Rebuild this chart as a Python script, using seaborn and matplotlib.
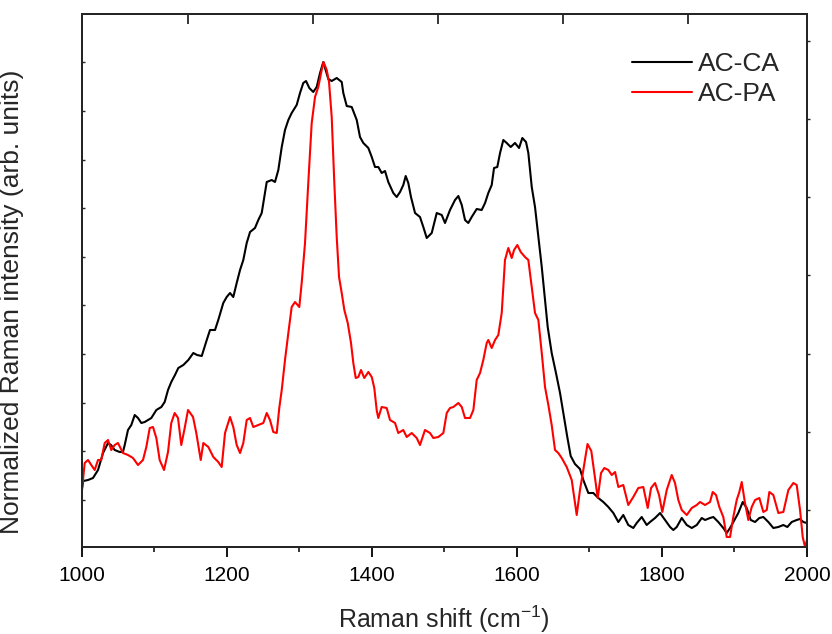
import numpy as np
import pandas as pd
import matplotlib
matplotlib.use("Agg")
import matplotlib.pyplot as plt
import seaborn as sns

# ---------------- data ----------------
ca_shift = [1000, 1002.2, 1008.7, 1015.6, 1022.5, 1029.4, 1036.3, 1040.4, 1045.5, 1052.4,
            1056.9, 1059.3, 1063.8, 1068.4, 1073.1, 1077.6, 1082.2, 1086.9, 1091.4, 1096.0,
            1102.9, 1109.8, 1114.4, 1119.0, 1123.5, 1128.6, 1133.2, 1140.1, 1147.0, 1153.9,
            1159.0, 1165.5, 1172.4, 1176.9, 1183.8, 1188.3, 1195.2, 1199.9, 1204.5, 1209.0,
            1213.7, 1218.3, 1222.8, 1227.5, 1232.1, 1238.9, 1243.5, 1248.2, 1250.4, 1255.1,
            1262.0, 1266.5, 1271.1, 1275.8, 1280.3, 1284.9, 1289.5, 1296.4, 1301.0, 1305.5,
            1309.3, 1313.8, 1319.3, 1324.0, 1328.6, 1333.1, 1340.0, 1344.7, 1351.6, 1358.5,
            1360.7, 1365.4, 1372.3, 1379.2, 1383.7, 1388.3, 1395.2, 1399.9, 1404.4, 1409.0,
            1413.6, 1418.2, 1422.7, 1429.6, 1434.3, 1438.9, 1443.4, 1446.7, 1450.3, 1454.0,
            1459.6, 1466.4, 1471.0, 1475.7, 1482.6, 1489.5, 1496.4, 1500.9, 1507.8, 1514.7,
            1519.3, 1524.0, 1528.5, 1533.0, 1537.7, 1544.6, 1551.5, 1556.1, 1560.6, 1565.3,
            1568.5, 1573.0, 1576.8, 1581.3, 1586.0, 1591.5, 1597.4, 1603.0, 1607.5, 1612.6,
            1615.8, 1620.5, 1625.0, 1629.6, 1634.3, 1638.8, 1642.5, 1648.0, 1653.9, 1659.5,
            1664.0, 1669.5, 1674.2, 1680.1, 1687.0, 1691.6, 1698.5, 1705.4, 1712.3, 1719.2,
            1726.1, 1733.0, 1739.9, 1746.7, 1753.6, 1760.5, 1765.2, 1772.1, 1779.0, 1783.6,
            1790.5, 1797.4, 1804.3, 1811.2, 1815.7, 1820.4, 1827.3, 1834.2, 1841.1, 1848.0,
            1854.9, 1859.4, 1866.3, 1870.9, 1877.7, 1884.6, 1889.3, 1893.9, 1898.4, 1905.3,
            1911.4, 1916.9, 1922.4, 1928.4, 1934.3, 1939.8, 1946.7, 1953.6, 1960.5, 1967.4,
            1972.9, 1978.9, 1985.8, 1990.4, 1994.9, 1999.6]
ca_intensity = [57, 66, 67, 69, 77, 94, 104, 102, 97, 95,
                95, 102, 117, 122, 132, 129, 124, 125, 127, 129,
                137, 140, 145, 157, 165, 172, 179, 182, 187, 194,
                192, 191, 207, 217, 217, 227, 244, 250, 254, 250,
                264, 277, 287, 304, 315, 319, 327, 334, 344, 365,
                367, 365, 377, 400, 417, 427, 434, 442, 454, 464,
                466, 459, 455, 460, 474, 485, 468, 466, 469, 465,
                454, 441, 440, 427, 410, 404, 399, 390, 380, 380,
                374, 376, 365, 354, 350, 355, 362, 371, 364, 350,
                334, 330, 320, 309, 314, 334, 332, 324, 337, 347,
                351, 342, 327, 324, 330, 338, 337, 344, 354, 362,
                379, 380, 394, 407, 404, 400, 404, 399, 409, 405,
                394, 360, 340, 310, 280, 247, 220, 194, 174, 154,
                134, 110, 91, 83, 78, 67, 54, 54, 49, 45,
                40, 34, 25, 32, 22, 19, 24, 30, 22, 25,
                29, 34, 27, 20, 17, 20, 29, 22, 19, 22,
                29, 27, 29, 30, 25, 19, 14, 19, 25, 34,
                45, 39, 27, 25, 29, 30, 25, 19, 20, 22,
                20, 25, 27, 28, 25, 24]

pa_shift = [1000, 1004.1, 1008.7, 1013.2, 1017.9, 1022.5, 1027.0, 1031.7, 1036.3, 1040.8,
            1045.5, 1050.0, 1056.9, 1063.8, 1070.7, 1077.6, 1084.5, 1089.1, 1093.8, 1098.3,
            1102.9, 1107.5, 1113.5, 1119.0, 1123.5, 1128.2, 1132.8, 1137.3, 1142.0, 1146.6,
            1153.5, 1158.0, 1164.1, 1167.7, 1174.6, 1181.5, 1188.3, 1193.0, 1197.6, 1204.5,
            1209.0, 1213.7, 1218.3, 1222.8, 1227.5, 1232.1, 1236.6, 1243.5, 1250.4, 1255.1,
            1259.6, 1264.2, 1268.9, 1272.4, 1275.8, 1280.3, 1284.9, 1289.5, 1294.1, 1300.0,
            1303.3, 1307.9, 1312.4, 1317.1, 1321.7, 1326.2, 1330.9, 1333.4, 1337.8, 1341.0,
            1344.7, 1348.3, 1351.6, 1354.8, 1358.5, 1362.1, 1366.8, 1371.3, 1374.5, 1377.8,
            1381.4, 1385.1, 1389.6, 1395.2, 1399.9, 1403.4, 1406.7, 1408.9, 1413.6, 1420.5,
            1425.1, 1432.0, 1436.5, 1443.4, 1448.1, 1455.0, 1461.9, 1466.4, 1473.3, 1480.2,
            1484.8, 1491.7, 1498.6, 1503.3, 1507.8, 1512.4, 1519.3, 1524.0, 1528.5, 1535.4,
            1540.0, 1544.6, 1549.2, 1553.7, 1558.4, 1560.6, 1565.3, 1569.9, 1574.4, 1579.1,
            1583.6, 1588.2, 1592.9, 1596.1, 1600.6, 1605.3, 1611.2, 1615.8, 1620.5, 1625.0,
            1629.6, 1634.3, 1638.8, 1643.4, 1648.0, 1652.6, 1657.1, 1661.8, 1668.7, 1675.6,
            1682.5, 1687.0, 1691.6, 1697.4, 1702.6, 1706.8, 1711.5, 1716.0, 1720.6, 1726.1,
            1730.8, 1735.4, 1739.9, 1746.7, 1753.6, 1760.5, 1767.4, 1774.3, 1780.4, 1785.0,
            1790.5, 1796.0, 1800.5, 1806.6, 1813.5, 1818.0, 1822.6, 1827.3, 1834.2, 1841.1,
            1848.0, 1852.5, 1859.4, 1866.3, 1870.0, 1874.6, 1879.1, 1884.6, 1889.3, 1893.9,
            1898.4, 1903.1, 1906.7, 1910.0, 1914.5, 1919.1, 1923.8, 1928.4, 1934.3, 1939.8,
            1944.5, 1948.1, 1953.6, 1960.5, 1967.4, 1974.3, 1981.2, 1985.8, 1990.4, 1994.1,
            1997.3, 2000]
pa_intensity = [54, 84, 87, 82, 77, 87, 87, 104, 107, 97,
                102, 104, 94, 92, 89, 82, 87, 100, 119, 120,
                109, 87, 77, 95, 124, 134, 129, 102, 119, 137,
                130, 114, 87, 104, 100, 90, 85, 80, 114, 130,
                120, 102, 94, 104, 127, 129, 120, 122, 124, 134,
                127, 115, 114, 139, 157, 187, 214, 240, 245, 240,
                264, 304, 364, 424, 450, 460, 477, 485, 477, 465,
                430, 364, 310, 270, 254, 237, 224, 204, 184, 169,
                170, 177, 169, 175, 170, 159, 137, 129, 140, 139,
                127, 124, 114, 117, 110, 114, 109, 102, 117, 114,
                109, 110, 114, 134, 139, 140, 144, 140, 129, 129,
                137, 167, 174, 187, 204, 207, 199, 207, 212, 234,
                287, 299, 289, 297, 302, 295, 290, 287, 260, 234,
                227, 194, 160, 142, 122, 97, 94, 89, 80, 67,
                32, 57, 77, 103, 96, 74, 49, 74, 79, 77,
                72, 75, 60, 62, 42, 50, 59, 60, 39, 59,
                64, 52, 35, 57, 72, 64, 47, 37, 32, 39,
                42, 45, 42, 45, 55, 52, 40, 30, 10, 10,
                30, 47, 55, 65, 44, 27, 40, 47, 49, 35,
                37, 55, 52, 34, 35, 57, 64, 62, 37, 10,
                0, 7]

series_names = ["AC-CA", "AC-PA"]
series_colors = ["black", "red"]
x_ticks = [1000, 1200, 1400, 1600, 1800, 2000]
x_tick_labels = ["1000", "1200", "1400", "1600", "1800", "2000"]

# ---------------- build long-form table ----------------
df = pd.concat([
    pd.DataFrame({"shift": ca_shift, "intensity": ca_intensity, "sample": series_names[0]}),
    pd.DataFrame({"shift": pa_shift, "intensity": pa_intensity, "sample": series_names[1]}),
], ignore_index=True)

sns.set_style("ticks")
plt.rcParams["font.family"] = ["Liberation Sans", "DejaVu Sans"]
plt.rcParams["mathtext.fontset"] = "custom"
plt.rcParams["mathtext.rm"] = "Liberation Sans"

fig = plt.figure(figsize=(8.32, 6.34), dpi=100)
AX_W = 807 - 81.7
AX_H = 547 - 14
ax = fig.add_axes([81.7 / 832, 1 - 547 / 634, AX_W / 832, AX_H / 634])

sns.lineplot(data=df, x="shift", y="intensity", hue="sample", hue_order=series_names,
             palette=dict(zip(series_names, series_colors)), estimator=None, sort=False,
             linewidth=1.5, ax=ax, legend=True)

ax.set_xlim(1000, 2000)
ax.set_ylim(0, 533)

ax.set_xticks(x_ticks)
ax.set_xticklabels(x_tick_labels, fontsize=15)
ax.set_xticks([1100, 1300, 1500, 1700, 1900], minor=True)
ax.tick_params(axis="x", which="major", direction="out", length=7, width=1.3, pad=7,
               top=False, colors="black")
ax.tick_params(axis="x", which="minor", direction="out", length=3.5, width=1.3, top=False)

ax.set_yticks([47.3 + k * 48.6 for k in range(10)])
ax.set_yticklabels([])
ax.tick_params(axis="y", which="major", direction="in", length=2.5, width=1.0, right=False)

for s in ax.spines.values():
    s.set_linewidth(1.3)
    s.set_color("black")

# top axis ticks (inward)
axt = ax.twiny()
axt.set_xlim(ax.get_xlim())
axt.set_xticks([1146.2, 1318.6, 1491.0, 1663.5, 1836.0])
axt.set_xticklabels([])
axt.tick_params(axis="x", direction="in", length=7, width=1.3)

# right axis ticks (outward, short)
axr = ax.twinx()
axr.set_ylim(ax.get_ylim())
axr.set_yticks([506.5, 428.2, 349.9, 271.6, 193.3, 115.0, 36.7])
axr.set_yticklabels([])
axr.tick_params(axis="y", direction="out", length=2.5, width=1.0)
for a in (axt, axr):
    for s in a.spines.values():
        s.set_linewidth(1.3)

ax.set_xlabel("Raman shift (cm$^{-1}$)", fontsize=18)
ax.xaxis.set_label_coords(0.5, -(604 - 547) / AX_H)
ax.set_ylabel("Normalized Raman intensity (arb. units)", fontsize=19)
ax.yaxis.set_label_coords((24 - 81.7) / AX_W, (547 - 302) / AX_H)

h, l = ax.get_legend_handles_labels()
ax.legend(h, l, loc="upper left", bbox_to_anchor=(632 / 832, 1 - 52 / 634),
          bbox_transform=fig.transFigure, frameon=False, fontsize=19,
          handlelength=2.27, handletextpad=0.23, labelspacing=0.22,
          borderpad=0, borderaxespad=0)

fig.savefig("out.png", dpi=100)
